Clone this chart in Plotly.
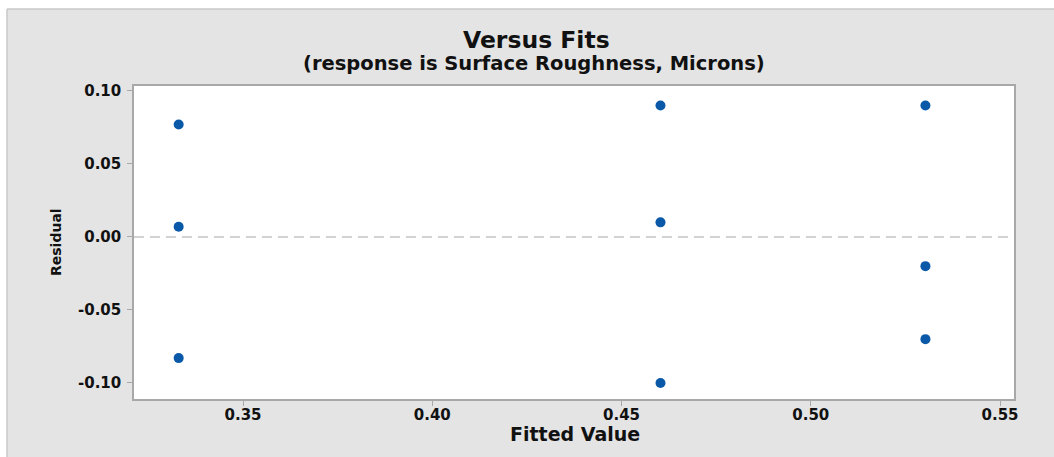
import plotly.graph_objects as go

fitted = [0.333, 0.333, 0.333, 0.4603, 0.4603, 0.4603, 0.5303, 0.5303, 0.5303]
residual = [0.077, 0.007, -0.083, 0.090, 0.010, -0.100, 0.090, -0.020, -0.070]

x_tickvals = [0.35, 0.40, 0.45, 0.50, 0.55]
x_ticktext = ["0.35", "0.40", "0.45", "0.50", "0.55"]
y_tickvals = [0.10, 0.05, 0.00, -0.05, -0.10]
y_ticktext = ["0.10", "0.05", "0.00", "-0.05", "-0.10"]

title = "Versus Fits"
subtitle = "(response is Surface Roughness, Microns)"
x_title = "Fitted Value"
y_title = "Residual"

W, H = 1054, 457
L, R, T, B = 134, 1014, 86, 399
pw, ph = R - L, B - T

def px(xp):
    return (xp - L) / pw

def py(yp):
    return (B - yp) / ph

FONT = "DejaVu Sans"
GRAY = "#e4e4e4"
INK = "#111111"

fig = go.Figure()
fig.add_trace(go.Scatter(
    x=fitted, y=residual, mode="markers",
    marker=dict(color="#0a59a8", size=10, line=dict(width=0)),
    showlegend=False, cliponaxis=False,
))

shapes = [
    dict(type="rect", xref="paper", yref="paper", x0=px(-5), x1=px(7), y0=py(H + 5), y1=py(-5),
         fillcolor="white", line=dict(width=0), layer="above"),
    dict(type="rect", xref="paper", yref="paper", x0=px(-5), x1=px(W + 5), y0=py(9), y1=py(-5),
         fillcolor="white", line=dict(width=0), layer="above"),
    dict(type="line", xref="paper", yref="paper", x0=px(7), x1=px(7), y0=py(H + 5), y1=py(9),
         line=dict(color="#c8c8c8", width=1.5)),
    dict(type="line", xref="paper", yref="paper", x0=px(7), x1=px(W + 5), y0=py(9), y1=py(9),
         line=dict(color="#c8c8c8", width=1.5)),
    dict(type="line", xref="paper", yref="y", x0=0, x1=1, y0=0, y1=0,
         line=dict(color="#c4c4c4", width=1.5, dash="10px,6px"), layer="below"),
]

annotations = [
    dict(text="<b>" + title + "</b>", xref="paper", yref="paper", x=px(536), y=py(40),
         showarrow=False, font=dict(family=FONT, size=23.5, color=INK),
         xanchor="center", yanchor="middle"),
    dict(text="<b>" + subtitle + "</b>", xref="paper", yref="paper", x=px(534), y=py(63),
         showarrow=False, font=dict(family=FONT, size=19.5, color=INK),
         xanchor="center", yanchor="middle"),
    dict(text="<b>" + x_title + "</b>", xref="paper", yref="paper", x=px(575), y=py(434),
         showarrow=False, font=dict(family=FONT, size=19, color=INK),
         xanchor="center", yanchor="middle"),
    dict(text="<b>" + y_title + "</b>", xref="paper", yref="paper", x=px(56), y=py(242),
         showarrow=False, textangle=-90, font=dict(family=FONT, size=14, color=INK),
         xanchor="center", yanchor="middle"),
]

fig.update_layout(
    width=W, height=H,
    margin=dict(l=L, r=W - R, t=T, b=H - B, pad=0),
    paper_bgcolor=GRAY, plot_bgcolor="white",
    shapes=shapes, annotations=annotations,
    font=dict(family=FONT, color=INK),
    xaxis=dict(
        range=[0.3212, 0.5537], tickvals=x_tickvals, ticktext=x_ticktext,
        showgrid=False, zeroline=False, showline=True, mirror=True,
        linecolor="#a8a8a8", linewidth=1.5,
        ticks="outside", ticklen=5, tickcolor="#a8a8a8", tickwidth=1,
        tickfont=dict(family=FONT, size=15, color=INK, weight="bold"),
        ticklabelstandoff=-4,
    ),
    yaxis=dict(
        range=[-0.111, 0.1034], tickvals=y_tickvals, ticktext=y_ticktext,
        showgrid=False, zeroline=False, showline=True, mirror=True,
        linecolor="#a8a8a8", linewidth=1.5,
        ticks="outside", ticklen=5, tickcolor="#a8a8a8", tickwidth=1,
        tickfont=dict(family=FONT, size=15, color=INK, weight="bold"),
        ticklabelstandoff=3,
    ),
)

fig.write_html("out.html", config={"displayModeBar": False},
               post_script="document.body.style.margin='0';")
